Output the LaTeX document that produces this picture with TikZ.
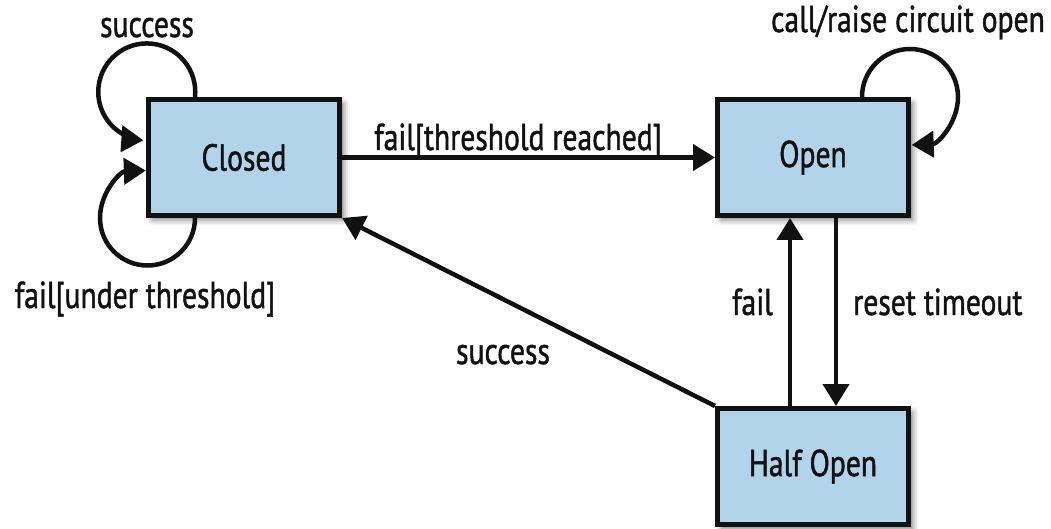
\documentclass[tikz,border=0pt]{standalone}
\usepackage{fontspec}
\setmainfont{PT Sans}[FakeStretch=0.79, FakeBold=1.2]
\usetikzlibrary{arrows.meta,shadows.blur}
\definecolor{statefill}{RGB}{178,212,235}
\definecolor{ink}{RGB}{17,17,17}

\begin{document}
\begin{tikzpicture}[x=1pt,y=1pt,
  font=\fontsize{37.5pt}{40pt}\selectfont,
  state/.style={draw=ink, line width=5pt, fill=statefill,
    minimum width=191pt, minimum height=116pt, inner sep=0pt, text=ink,
    blur shadow={shadow xshift=4pt, shadow yshift=-4pt,
      shadow blur radius=6pt, shadow opacity=55}},
  arr/.style={draw=ink, line width=4.5pt,
    -{Triangle[length=22pt,width=26pt]}},
  lbl/.style={inner sep=0pt, text=ink, anchor=base}
]
\useasboundingbox (0,0) rectangle (1051,528);

% states
\node[state] (closed) at (244,370.5) {Closed};
\node[state] (open)   at (813,370.5) {Open};
\node[state] (half)   at (813,61.5)  {Half Open};

% transitions between states
\draw[arr] (closed) -- (open);
\draw[arr] (half.north west) -- (closed.south east);
\draw[arr] ([xshift=-23pt]half.north) -- ([xshift=-23pt]open.south);
\draw[arr] ([xshift=23pt]open.south) -- ([xshift=23pt]half.north);

% self loops
\draw[arr] ([xshift=-49pt]closed.north) arc[start angle=-6, end angle=266, radius=48.5];
\draw[arr] ([xshift=-49pt]closed.south) arc[start angle=0, end angle=-268, radius=47.5];
\draw[arr] ([xshift=49pt]open.north) arc[start angle=180, end angle=-88, radius=48];

% transition labels
\node[lbl] (lthr)   at (518,378) {fail[threshold reached]};
\node[lbl] (lsucc)  at (503,164) {success};
\node[lbl, anchor=base east] (lfail)  at (773,213) {fail};
\node[lbl, anchor=base west] (lreset) at (853,213) {reset timeout};
\node[lbl] (lcall)  at (908,496) {call/raise circuit open};
\node[lbl] (lsuccloop) at (147,491) {success};
\node[lbl] (lfailloop) at (145,220) {fail[under threshold]};
\end{tikzpicture}
\end{document}
